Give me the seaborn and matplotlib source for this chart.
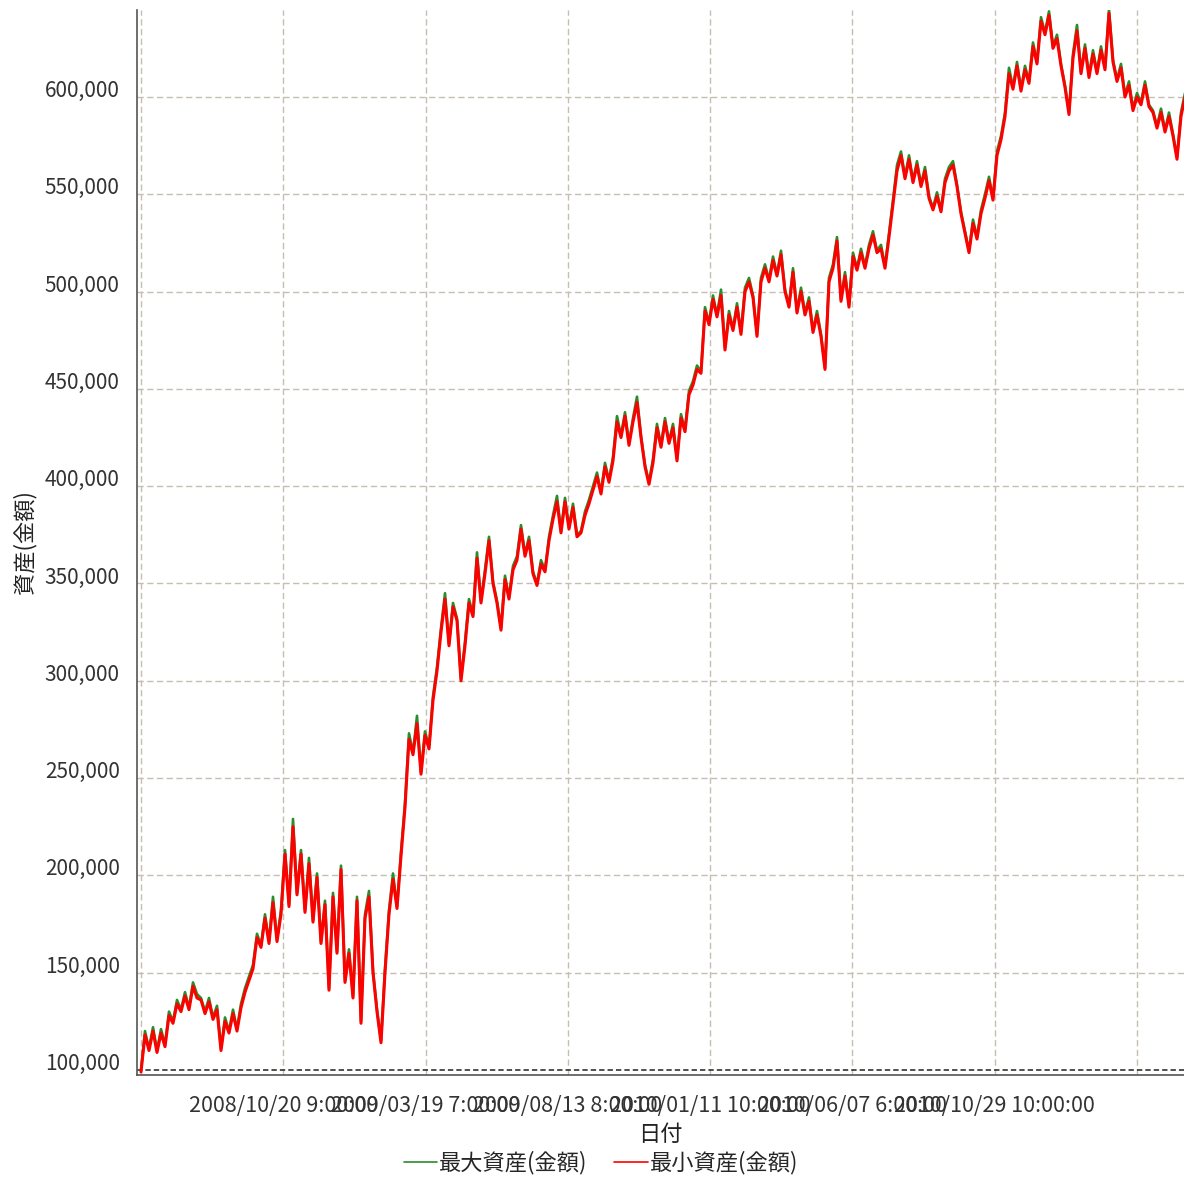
#!/usr/bin/env python3
"""
Equity curve: max / min asset per bar (backtest result chart)
"""

import numpy as np
import pandas as pd
import matplotlib
matplotlib.use('Agg')
import matplotlib.pyplot as plt
import matplotlib.ticker as mticker
import seaborn as sns


# --- data (thousand yen) -----------------------------------------------------
# 最小資産(金額): one value per sample, high / low swings of the band
min_asset_k = [
    99, 118, 110, 120, 109, 119, 112, 128, 124, 134,
    130, 138, 131, 143, 137, 136, 129, 135, 126, 131,
    110, 125, 119, 129, 120, 132, 140, 146, 152, 168,
    163, 178, 165, 186, 166, 180, 211, 184, 225, 190,
    211, 181, 206, 176, 199, 165, 185, 141, 189, 160,
    203, 145, 160, 137, 187, 124, 178, 189, 150, 130,
    114, 150, 180, 198, 183, 210, 235, 270, 262, 278,
    252, 272, 265, 290, 305, 325, 342, 318, 338, 331,
    300, 318, 340, 333, 363, 340, 355, 372, 350, 340,
    326, 352, 342, 357, 362, 378, 364, 372, 355, 349,
    360, 356, 372, 383, 392, 376, 392, 378, 389, 374,
    376, 385, 391, 398, 405, 396, 410, 402, 413, 433,
    425, 436, 421, 433, 443, 425, 410, 401, 412, 430,
    420, 433, 422, 430, 413, 435, 428, 447, 452, 460,
    458, 490, 483, 496, 487, 498, 470, 488, 480, 492,
    478, 500, 505, 497, 477, 505, 512, 505, 516, 508,
    519, 500, 492, 510, 489, 500, 488, 495, 479, 488,
    477, 460, 505, 512, 526, 495, 508, 492, 518, 511,
    520, 512, 522, 529, 520, 522, 512, 528, 545, 562,
    570, 558, 568, 556, 565, 554, 562, 548, 542, 549,
    541, 556, 562, 565, 554, 540, 530, 520, 535, 527,
    540, 548, 557, 547, 570, 578, 590, 612, 604, 616,
    603, 614, 607, 626, 617, 639, 632, 642, 625, 630,
    616, 605, 591, 620, 634, 612, 625, 610, 622, 612,
    624, 614, 643, 618, 608, 615, 600, 606, 593, 600,
    596, 606, 595, 592, 584, 592, 582, 590, 580, 568,
    590, 600,
]

# 最大資産(金額): same samples, sits just above the red band (green tips)
max_asset_k = [
    100, 120, 111, 122, 110, 121, 113, 130, 125, 136,
    131, 140, 132, 145, 139, 137, 130, 137, 127, 133,
    111, 127, 120, 131, 121, 134, 142, 148, 154, 170,
    164, 180, 166, 189, 167, 182, 213, 185, 229, 191,
    213, 182, 209, 177, 201, 166, 187, 142, 191, 161,
    205, 146, 162, 138, 189, 125, 180, 192, 151, 131,
    115, 152, 182, 201, 184, 212, 237, 273, 263, 282,
    253, 274, 266, 292, 307, 327, 345, 319, 340, 332,
    301, 320, 342, 334, 366, 341, 357, 374, 351, 341,
    327, 354, 343, 359, 364, 380, 365, 374, 356, 350,
    362, 357, 374, 385, 395, 377, 394, 379, 391, 375,
    377, 387, 393, 400, 407, 397, 412, 403, 415, 436,
    426, 438, 422, 435, 446, 426, 411, 402, 414, 432,
    421, 435, 423, 432, 414, 437, 429, 449, 454, 462,
    459, 492, 484, 498, 488, 501, 471, 490, 481, 494,
    479, 502, 507, 498, 478, 507, 514, 506, 518, 509,
    521, 501, 493, 512, 490, 502, 489, 497, 480, 490,
    478, 461, 507, 514, 528, 496, 510, 493, 520, 512,
    522, 513, 524, 531, 521, 524, 513, 530, 547, 565,
    572, 559, 570, 557, 567, 555, 564, 549, 543, 551,
    542, 558, 564, 567, 555, 541, 531, 521, 537, 528,
    542, 550, 559, 548, 572, 580, 592, 615, 605, 618,
    604, 616, 608, 628, 618, 641, 633, 644, 626, 632,
    617, 606, 592, 622, 637, 613, 627, 611, 624, 613,
    626, 615, 645, 619, 609, 617, 601, 608, 594, 602,
    597, 608, 596, 593, 585, 594, 583, 592, 581, 569,
    592, 602,
]

tick_labels = ['', '2008/10/20 9:00:00', '2009/03/19 7:00:00',
               '2009/08/13 8:00:00', '2010/01/11 10:00:00',
               '2010/06/07 6:00:00', '2010/10/29 10:00:00', '']
tick_step = 35.57          # samples between date ticks
y_ticks = np.arange(100000, 600001, 50000)
initial_capital = 100000


def build_frames():
    """Put both series into DataFrames keyed by bar index."""
    df_min = pd.DataFrame({'bar': np.arange(len(min_asset_k)),
                           'asset': np.array(min_asset_k) * 1000})
    df_max = pd.DataFrame({'bar': np.arange(len(max_asset_k)),
                           'asset': np.array(max_asset_k) * 1000})
    return df_min, df_max


def draw_chart(df_min, df_max, out_path='out.png'):
    sns.set_theme(style='white')
    plt.rcParams['font.family'] = ['Noto Sans CJK JP', 'DejaVu Sans']

    W, H = 1184, 1180
    fig = plt.figure(figsize=(W / 100, H / 100), dpi=100)
    ax = fig.add_axes([137 / W, (H - 1075) / H, (W - 137) / W, (1075 - 10) / H])

    grid_kw = dict(color='#c4bfb2', linewidth=1.0, linestyle=(0, (4.5, 2.5)), zorder=0)

    # max first, min drawn on top (green only peeks out at the top)
    sns.lineplot(data=df_max, x='bar', y='asset', ax=ax, color='#2a8c2a',
                 linewidth=1.9, estimator=None, sort=False, label='最大資産(金額)')
    sns.lineplot(data=df_min, x='bar', y='asset', ax=ax, color='#ff0000',
                 linewidth=2.2, estimator=None, sort=False, label='最小資産(金額)')

    xt = np.arange(len(tick_labels)) * tick_step
    ax.set_xticks(xt)
    ax.set_xticklabels(tick_labels)
    ax.set_yticks(y_ticks)
    ax.yaxis.set_major_formatter(mticker.FuncFormatter(lambda v, p: f'{int(v):,}'))

    for v in y_ticks[1:]:
        ax.axhline(v, **grid_kw)
    for t in xt:
        ax.axvline(t, **grid_kw)
    ax.axhline(initial_capital, color='#222222', linewidth=1.1,
               linestyle=(0, (3.5, 2.0)), zorder=1)

    ax.set_xlim(-1, 260.75)
    ax.set_ylim(97430, 644700)

    for side in ['top', 'right']:
        ax.spines[side].set_visible(False)
    for side in ['left', 'bottom']:
        ax.spines[side].set_color('#555555')
        ax.spines[side].set_linewidth(1.2)

    ax.tick_params(axis='both', direction='out', length=5.5, width=1.0,
                   color='#555555', labelsize=15, labelcolor='#333333')
    ax.tick_params(axis='y', pad=7)
    ax.tick_params(axis='x', pad=9, labelsize=15.5)
    for lab in ax.get_yticklabels():
        lab.set_verticalalignment('baseline')

    ax.set_xlabel('日付', fontsize=16, color='#222222', labelpad=4)
    ax.set_ylabel('資産(金額)', fontsize=16, color='#222222', labelpad=6)

    handles, labels = ax.get_legend_handles_labels()
    ax.get_legend().remove()
    leg = fig.legend(handles, labels, loc='center', bbox_to_anchor=(601 / W, 1 - 1163 / H),
                     ncol=2, frameon=False, fontsize=16, handlelength=1.5,
                     handletextpad=0.1, columnspacing=1.2)
    for line in leg.get_lines():
        line.set_linewidth(1.2)

    fig.savefig(out_path, dpi=100)
    plt.close(fig)


def main():
    df_min, df_max = build_frames()
    draw_chart(df_min, df_max)


if __name__ == "__main__":
    main()
